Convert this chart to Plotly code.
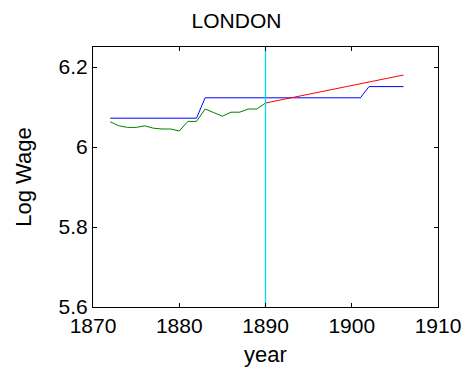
import plotly.graph_objects as go

green_years = list(range(1872, 1891))
green_vals = [6.063, 6.053, 6.049, 6.049, 6.053, 6.047, 6.045, 6.045, 6.040, 6.064,
              6.064, 6.095, 6.086, 6.077, 6.087, 6.087, 6.095, 6.095, 6.110]
blue_years = [1872, 1882, 1883, 1901, 1902, 1906]
blue_vals = [6.072, 6.072, 6.123, 6.123, 6.151, 6.151]
red_years = [1890, 1906]
red_vals = [6.110, 6.180]
vline_year = 1890
y_range = [5.6, 6.25]

fig = go.Figure()
fig.add_trace(go.Scatter(x=blue_years, y=blue_vals, mode="lines",
                         line=dict(color="#0000ff", width=1)))
fig.add_trace(go.Scatter(x=green_years, y=green_vals, mode="lines",
                         line=dict(color="#008000", width=1)))
fig.add_trace(go.Scatter(x=red_years, y=red_vals, mode="lines",
                         line=dict(color="#ff0000", width=1)))
fig.add_trace(go.Scatter(x=[vline_year, vline_year], y=y_range, mode="lines",
                         line=dict(color="#00dde6", width=1.3)))

fig.update_layout(
    width=473, height=381,
    margin=dict(l=93, r=35, t=47, b=74),
    paper_bgcolor="white", plot_bgcolor="white",
    showlegend=False,
    font=dict(family="Liberation Sans, Arial, sans-serif", color="black", size=21),
    title=dict(text="LONDON", x=0.5, xanchor="center", y=0.947, yanchor="middle",
               font=dict(size=21)),
    xaxis=dict(range=[1870, 1910], tickvals=[1870, 1880, 1890, 1900, 1910],
               showgrid=False, zeroline=False, showline=True, linecolor="black",
               linewidth=1, mirror="ticks", ticks="inside", ticklen=4,
               tickcolor="black", tickfont=dict(size=21),
               title=dict(text="year", font=dict(size=22), standoff=10)),
    yaxis=dict(range=y_range, tickvals=[5.6, 5.8, 6.0, 6.2],
               ticktext=["5.6", "5.8", "6", "6.2"],
               showgrid=False, zeroline=False, showline=True, linecolor="black",
               linewidth=1, mirror="ticks", ticks="inside", ticklen=4,
               tickcolor="black", tickfont=dict(size=21),
               title=dict(text="Log Wage", font=dict(size=22), standoff=20)),
)

fig.write_html("out.html")
